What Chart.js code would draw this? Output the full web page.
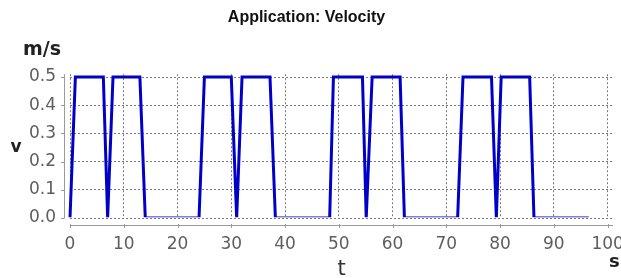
<!DOCTYPE html>
<html>
  <head>
    <title>Application: Velocity</title>
    <style>
      html, body { margin: 0; padding: 0; background: #fff; }
    </style>
  </head>
  <body>
    <script src="https://cdn.jsdelivr.net/npm/chart.js@4.4.1/dist/chart.umd.min.js"></script>

    <canvas id="velocityChart" width="621" height="278"></canvas>

    <script>
      // time (s) and velocity (m/s)
      const times = [0, 1, 6.2, 7, 8, 13, 14,
                     24, 25, 30, 31, 32, 37.2, 38.2,
                     48.3, 49, 54.4, 55.1, 56.2, 61.4, 62.2,
                     72.1, 73.1, 78.4, 79.3, 80.2, 85.5, 86.3,
                     96.5];
      const velocity = [0, 0.5, 0.5, 0, 0.5, 0.5, 0,
                        0, 0.5, 0.5, 0, 0.5, 0.5, 0,
                        0, 0.5, 0.5, 0, 0.5, 0.5, 0,
                        0, 0.5, 0.5, 0, 0.5, 0.5, 0,
                        0];
      const xTicks = [0, 10, 20, 30, 40, 50, 60, 70, 80, 90, 100];
      const yTicks = [0, 0.1, 0.2, 0.3, 0.4, 0.5];

      const chartTitle = "Application: Velocity";
      const xLabel = "t";
      const xUnit = "s";
      const yLabel = "v";
      const yUnit = "m/s";

      const points = times.map((t, i) => ({ x: t, y: velocity[i] }));

      // axis lines sit a few pixels away from the plot area, plus the free labels
      const axisDecor = {
        id: "axisDecor",
        afterDraw(chart) {
          const c = chart.ctx;
          const area = chart.chartArea;
          const xs = chart.scales.x;
          const ys = chart.scales.y;
          const ax = area.left - 6;
          const ay = area.bottom + 7;

          c.save();
          c.strokeStyle = "#9a9a9a";
          c.lineWidth = 1;
          c.beginPath();
          c.moveTo(ax + 0.5, area.top);
          c.lineTo(ax + 0.5, area.bottom);
          yTicks.forEach(v => {
            const py = Math.round(ys.getPixelForValue(v)) + 0.5;
            c.moveTo(ax - 3, py);
            c.lineTo(ax + 0.5, py);
          });
          c.moveTo(area.left, ay + 0.5);
          c.lineTo(area.right, ay + 0.5);
          xTicks.forEach(v => {
            const px = Math.round(xs.getPixelForValue(v)) + 0.5;
            c.moveTo(px, ay - 1);
            c.lineTo(px, ay + 3);
          });
          c.stroke();

          c.fillStyle = "#222";
          c.textBaseline = "alphabetic";
          c.font = "bold 19px 'DejaVu Sans'";
          c.textAlign = "center";
          c.fillText(yUnit, 42, 55);
          c.font = "bold 17px 'DejaVu Sans'";
          c.fillText(yLabel, 16, 152);
          c.fillStyle = "#333";
          c.font = "21px 'DejaVu Sans'";
          c.fillText(xLabel, (area.left + area.right) / 2, 275);
          c.fillStyle = "#222";
          c.font = "bold 18px 'DejaVu Sans'";
          c.textAlign = "left";
          c.fillText(xUnit, 609, 267);
          c.restore();
        }
      };

      const ctx = document.getElementById("velocityChart").getContext("2d");

      const chart = new Chart(ctx, {
        type: "line",
        data: {
          datasets: [{
            data: points,
            borderColor: "#0000c8",
            borderWidth: 3,
            pointRadius: 0,
            tension: 0,
            // the plot clips the line along the zero edge, as in the original
            clip: { left: 3, top: 3, right: 3, bottom: -0.7 }
          }]
        },
        options: {
          responsive: false,
          animation: false,
          layout: { padding: { left: 0, right: 8, top: 0, bottom: 0 } },
          plugins: {
            legend: { display: false },
            tooltip: { enabled: false },
            title: {
              display: true,
              text: chartTitle,
              color: "#111",
              font: { family: "'Liberation Sans', Arial", size: 16, weight: "bold" },
              padding: { top: 8, bottom: 47 }
            }
          },
          scales: {
            x: {
              type: "linear",
              min: 0,
              max: 101,
              afterBuildTicks: s => { s.ticks = xTicks.map(v => ({ value: v })); },
              afterFit: s => { s.height = 60; s.paddingLeft = 0; s.paddingRight = 0; },
              ticks: {
                autoSkip: false,
                maxRotation: 0,
                padding: 16,
                color: "#5e5e5e",
                font: { family: "'DejaVu Sans'", size: 17 }
              },
              grid: { color: "#7a7a7a", lineWidth: 1, drawTicks: false },
              border: { display: false, dash: [2, 2] }
            },
            y: {
              min: 0,
              max: 0.51,
              afterBuildTicks: s => { s.ticks = yTicks.map(v => ({ value: v })); },
              afterFit: s => { s.width = 70; s.paddingTop = 0; s.paddingBottom = 0; },
              ticks: {
                padding: 14,
                color: "#5e5e5e",
                font: { family: "'DejaVu Sans'", size: 17 },
                callback: v => v.toFixed(1)
              },
              grid: { color: "#7a7a7a", lineWidth: 1, drawTicks: false },
              border: { display: false, dash: [2, 2] }
            }
          }
        },
        plugins: [axisDecor]
      });
    </script>
  </body>
</html>
